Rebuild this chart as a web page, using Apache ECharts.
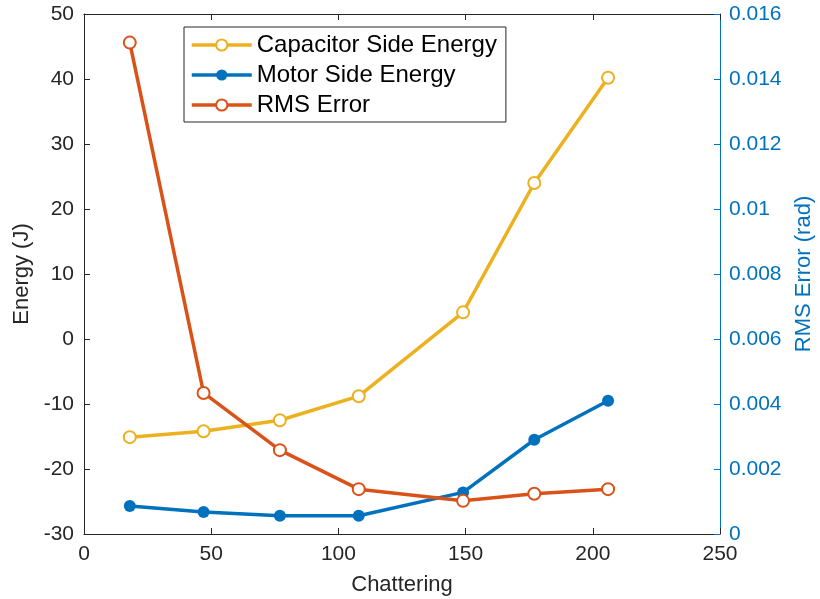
<!DOCTYPE html>
<html>
<head>
<meta charset="utf-8">
<script src="https://cdn.jsdelivr.net/npm/echarts@6/dist/echarts.min.js"></script>
<style>
  html, body { margin: 0; padding: 0; background: #fff; }
  #chart { width: 820px; height: 599px; }
</style>
</head>
<body>
<div id="chart"></div>
<script>
// Chattering level of each run (x values shared by all series)
const chattering = [18, 47, 77, 108, 149, 177, 206];
// Energies in joules (left axis)
const capacitorEnergy = [-15.1, -14.2, -12.5, -8.8, 4.1, 24.0, 40.2];
const motorEnergy = [-25.7, -26.6, -27.2, -27.2, -23.6, -15.5, -9.5];
// Tracking error in radians (right axis)
const rmsError = [0.01512, 0.00434, 0.00258, 0.00138, 0.00102, 0.00124, 0.00138];

const seriesNames = ['Capacitor Side Energy', 'Motor Side Energy', 'RMS Error'];
const colors = ['#EDB120', '#0072BD', '#D95319'];

const pairs = (ys) => chattering.map((x, i) => [x, ys[i]]);

const FONT = 'Liberation Sans, Arial, Helvetica, sans-serif';
const INK = '#262626';
const BLUE = '#0072BD';
const LW = 3.5;

const chart = echarts.init(document.getElementById('chart'), null, { renderer: 'canvas' });

chart.setOption({
  animation: false,
  backgroundColor: '#fff',
  textStyle: { fontFamily: FONT },
  grid: { left: 84, right: 100, top: 14, bottom: 65, containLabel: false, outerBoundsMode: 'none' },
  legend: {
    orient: 'vertical',
    left: 184,
    top: 27,
    data: seriesNames,
    backgroundColor: '#fff',
    borderColor: INK,
    borderWidth: 1,
    padding: [6, 9, 5, 6],
    itemGap: 6,
    itemWidth: 60,
    itemHeight: 14,
    lineStyle: { width: 3.5 },
    textStyle: { fontSize: 24, color: '#000', fontFamily: FONT, lineHeight: 24 }
  },
  xAxis: [
    {
      type: 'value',
      position: 'bottom',
      min: 0, max: 250, interval: 50,
      name: 'Chattering',
      nameLocation: 'middle',
      nameGap: 40,
      nameTextStyle: { fontSize: 22, color: INK, fontFamily: FONT },
      axisLine: { show: true, onZero: false, lineStyle: { color: INK, width: 1 } },
      axisTick: { show: true, inside: true, length: 6, lineStyle: { color: INK } },
      axisLabel: { fontSize: 21, color: INK, margin: 10, fontFamily: FONT },
      splitLine: { show: false }
    },
    {
      type: 'value',
      position: 'top',
      min: 0, max: 250, interval: 50,
      axisLine: { show: true, onZero: false, lineStyle: { color: INK, width: 1 } },
      axisTick: { show: true, inside: true, length: 6, lineStyle: { color: INK } },
      axisLabel: { show: false },
      splitLine: { show: false }
    }
  ],
  yAxis: [
    {
      type: 'value',
      position: 'left',
      min: -30, max: 50, interval: 10,
      name: 'Energy (J)',
      nameLocation: 'middle',
      nameRotate: 90,
      nameGap: 51,
      nameTextStyle: { fontSize: 22, color: INK, fontFamily: FONT },
      axisLine: { show: true, onZero: false, lineStyle: { color: INK, width: 1 } },
      axisTick: { show: true, inside: true, length: 6, lineStyle: { color: INK } },
      axisLabel: { fontSize: 21, color: INK, margin: 10, fontFamily: FONT },
      splitLine: { show: false }
    },
    {
      type: 'value',
      position: 'right',
      min: 0, max: 0.016, interval: 0.002,
      name: 'RMS Error (rad)',
      nameLocation: 'middle',
      nameRotate: 90,
      nameGap: 69,
      nameTextStyle: { fontSize: 22, color: BLUE, fontFamily: FONT },
      axisLine: { show: true, onZero: false, lineStyle: { color: BLUE, width: 1 } },
      axisTick: { show: true, inside: true, length: 6, lineStyle: { color: BLUE } },
      axisLabel: {
        fontSize: 21, color: BLUE, margin: 9, fontFamily: FONT,
        formatter: (v) => String(parseFloat(v.toFixed(4)))
      },
      splitLine: { show: false }
    }
  ],
  series: [
    {
      name: seriesNames[0],
      type: 'line',
      xAxisIndex: 0, yAxisIndex: 0,
      data: pairs(capacitorEnergy),
      color: colors[0],
      lineStyle: { width: LW, color: colors[0] },
      symbol: 'emptyCircle',
      symbolSize: 12,
      itemStyle: { color: colors[0], borderColor: colors[0], borderWidth: 3.5 },
      z: 2
    },
    {
      name: seriesNames[1],
      type: 'line',
      xAxisIndex: 0, yAxisIndex: 0,
      data: pairs(motorEnergy),
      color: colors[1],
      lineStyle: { width: LW, color: colors[1] },
      symbol: 'circle',
      symbolSize: 12,
      itemStyle: { color: colors[1] },
      z: 3
    },
    {
      name: seriesNames[2],
      type: 'line',
      xAxisIndex: 0, yAxisIndex: 1,
      data: pairs(rmsError),
      color: colors[2],
      lineStyle: { width: LW, color: colors[2] },
      symbol: 'emptyCircle',
      symbolSize: 12,
      itemStyle: { color: colors[2], borderColor: colors[2], borderWidth: 3.5 },
      z: 4
    }
  ]
});
</script>
</body>
</html>
